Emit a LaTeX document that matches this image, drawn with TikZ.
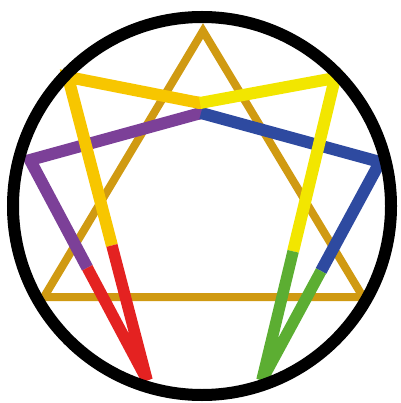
\documentclass[tikz,border=0pt]{standalone}
\usetikzlibrary{calc}
\definecolor{goldc}{RGB}{208,154,18}
\definecolor{orangey}{RGB}{247,198,0}
\definecolor{lemon}{RGB}{242,230,0}
\definecolor{purp}{RGB}{124,64,152}
\definecolor{bluec}{RGB}{46,74,160}
\definecolor{redc}{RGB}{228,34,33}
\definecolor{greenc}{RGB}{92,174,50}
\tikzset{
  tri/.style={draw=goldc, line width=8pt, line join=miter},
  band/.style={line width=12pt, line join=miter, line cap=butt},
  tipband/.style={line width=11.5pt, line join=bevel, line cap=butt},
  ring/.style={draw=black, line width=12pt}
}
\begin{document}
\begin{tikzpicture}[x=1pt,y=-1pt]
\useasboundingbox (0,0) rectangle (400,403);
% points
\coordinate (P9) at (203,31);
\coordinate (P3) at (363,297);
\coordinate (P6) at (44,297);
\coordinate (P8) at (68,77);
\coordinate (P1) at (335,78);
\coordinate (P7) at (30,160);
\coordinate (P2) at (380,162);
\coordinate (P5) at (147,380);
\coordinate (P4) at (262,380);
\coordinate (XU) at (200,103);
\coordinate (XL) at (201,113);
\coordinate (Y8) at ($(P8)!0.556!(P5)$);
\coordinate (Y7) at ($(P7)!0.49!(P5)$);
\coordinate (Y1) at ($(P1)!0.574!(P4)$);
\coordinate (Y2) at ($(P2)!0.50!(P4)$);
\coordinate (C) at (202,206);
% gold triangle
\draw[tri] (P9) -- (P3) -- (P6) -- cycle;
% purple and blue
\draw[band, draw=purp, line cap=round] (XL) -- ($(XL)!3pt!(P7)$);
\draw[band, draw=purp] (Y7) -- (P7) -- (XL);
\draw[band, draw=bluec] (XL) -- (P2) -- (Y2);
% orange-yellow and lemon
\draw[band, draw=orangey, line cap=round] (XU) -- ($(XU)!3pt!(P8)$);
\draw[band, draw=orangey] (Y8) -- (P8) -- (XU);
\draw[band, draw=lemon] (XU) -- (P1) -- (Y1);
% red and green
\draw[tipband, draw=redc] (Y8) -- (P5) -- (Y7);
\draw[tipband, draw=greenc] (Y1) -- (P4) -- (Y2);
% outer circle
\draw[ring] (C) circle[radius=189];
\end{tikzpicture}
\end{document}
